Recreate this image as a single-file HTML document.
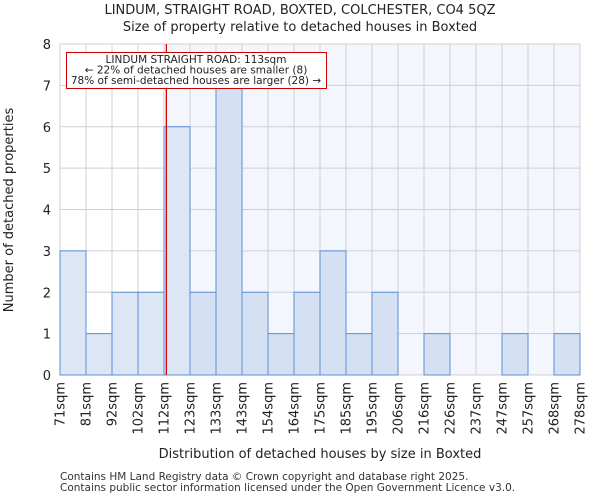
<!DOCTYPE html>
<html><head><meta charset="utf-8"><style>
body{margin:0;background:#fff;font-family:"DejaVu Sans","Liberation Sans",sans-serif}
svg text{font-family:"DejaVu Sans","Liberation Sans",sans-serif}
</style></head><body>
<svg id="c" width="600" height="500" xmlns="http://www.w3.org/2000/svg"></svg>
<script>
const binLabels=["71sqm","81sqm","92sqm","102sqm","112sqm","123sqm","133sqm","143sqm","154sqm","164sqm","175sqm","185sqm","195sqm","206sqm","216sqm","226sqm","237sqm","247sqm","257sqm","268sqm","278sqm"];
const counts=[3,1,2,2,6,2,7,2,1,2,3,1,2,0,1,0,0,1,0,1];
const yTicks=[0,1,2,3,4,5,6,7,8];
const markerBinPos=4.09;
const NS="http://www.w3.org/2000/svg";
const svg=document.getElementById('c');
const L=60,R=580,T=44,B=375,yMax=8;
const bw=(R-L)/counts.length;
const xs=i=>L+i*bw;
const ys=v=>B-(B-T)*v/yMax;
function mk(t,a,txt){const e=document.createElementNS(NS,t);for(const k in a)e.setAttribute(k,a[k]);if(txt!=null)e.textContent=txt;svg.appendChild(e);return e;}
const mx=xs(markerBinPos);
let e=mk('rect',{x:L,y:T,width:R-L,height:B-T,fill:'#fff'});

e=mk('rect',{x:mx,y:T,width:R-mx,height:B-T,fill:'#f3f6fd'});

yTicks.forEach(v=>{
 e=mk('line',{x1:L,x2:R,y1:ys(v),y2:ys(v),stroke:'#d0d0d0','stroke-width':1});
 
 e=mk('text',{x:L-9,y:ys(v)+5,'text-anchor':'end','font-size':13,fill:'#222'},v);
 
});
binLabels.forEach((s,i)=>{
 e=mk('line',{x1:xs(i),x2:xs(i),y1:T,y2:B,stroke:'#d0d0d0','stroke-width':1});
 
 const x=xs(i)+4.5,y=382;
 e=mk('text',{x:x,y:y,'text-anchor':'end','font-size':13,fill:'#222',transform:`rotate(-90 ${x} ${y})`},s);
 
});
counts.forEach((v,i)=>{
 if(v<=0)return;
 const left=xs(i)<mx;
 e=mk('rect',{x:xs(i),y:ys(v),width:bw,height:B-ys(v),fill:left?'#dde6f4':'#d5e1f3',stroke:'#5a8fd8','stroke-width':1});
 
});
e=mk('line',{x1:mx,x2:mx,y1:T,y2:B,stroke:'#d00','stroke-width':1.3});

e=mk('rect',{x:66.5,y:52.5,width:260,height:36,fill:'#fff',stroke:'#c00','stroke-width':1});

[["LINDUM STRAIGHT ROAD: 113sqm",63],["← 22% of detached houses are smaller (8)",73.5],["78% of semi-detached houses are larger (28) →",84]].forEach(a=>{
 e=mk('text',{x:196,y:a[1],'text-anchor':'middle','font-size':10.5,fill:'#222'},a[0]);
 
});
e=mk('text',{x:300,y:14,'text-anchor':'middle','font-size':13,fill:'#222'},"LINDUM, STRAIGHT ROAD, BOXTED, COLCHESTER, CO4 5QZ");

e=mk('text',{x:300,y:31,'text-anchor':'middle','font-size':13,fill:'#222'},"Size of property relative to detached houses in Boxted");

e=mk('text',{x:320,y:458,'text-anchor':'middle','font-size':13,fill:'#222'},"Distribution of detached houses by size in Boxted");

e=mk('text',{x:13,y:210,'text-anchor':'middle','font-size':13,fill:'#222',transform:'rotate(-90 13 210)'},"Number of detached properties");

e=mk('text',{x:60,y:480,'font-size':10.5,fill:'#333'},"Contains HM Land Registry data © Crown copyright and database right 2025.");

e=mk('text',{x:60,y:491,'font-size':10.5,fill:'#333'},"Contains public sector information licensed under the Open Government Licence v3.0.");

</script>
</body></html>
